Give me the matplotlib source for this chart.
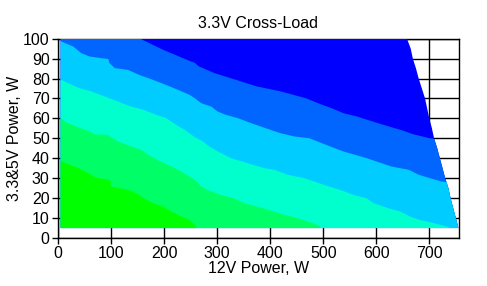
import matplotlib
matplotlib.use("Agg")
import matplotlib.pyplot as plt
from matplotlib.patches import Polygon
import numpy as np

plt.rcParams['font.family'] = ['Liberation Sans', 'DejaVu Sans']

title = "3.3V Cross-Load"
xlabel = "12V Power, W"
ylabel = "3.3&5V Power, W"

x_ticks = [0, 100, 200, 300, 400, 500, 600, 700]
y_ticks = [0, 10, 20, 30, 40, 50, 60, 70, 80, 90, 100]

# measured region starts at these minimum loads
x_min_load = 5
y_min_load = 5

# right boundary (maximum combined load) : y -> x
edge_y = [5, 10, 15, 20, 25, 30, 35, 40, 45, 50, 55, 60, 65, 70, 75, 80, 85, 90, 95, 100]
edge_x = [755, 750, 745, 740, 736, 730, 725, 720, 715, 709, 705, 700, 696, 692, 686, 680, 675, 669, 665, 658]

# boundaries between deviation levels (y -> x)
b1_y = [5, 6.9, 9.4, 11, 13.5, 16.1, 17.7, 20.2, 22.7, 24.4, 25.3, 26.1, 29.5, 30.5, 32, 33.6, 35.3, 37, 38.8]
b1_x = [262, 257, 247, 232, 213, 197, 178, 161, 147, 131, 115, 100, 97, 70, 62, 50, 38, 21, 5]

b2_y = [5, 6.4, 8, 10.2, 11.9, 14, 16.1, 17.7, 20.2, 21.9, 24.4, 26.1, 29.4, 31.1, 33.6, 36.1, 39, 42,
        44.5, 46.2, 48.7, 51.2, 52, 52.3, 53.7, 55.3, 58.2, 60.4]
b2_x = [495, 492, 476, 451, 426, 401, 373, 351, 330, 306, 281, 269, 257, 247, 232, 213, 190, 169,
        156, 137, 112, 97, 94, 68, 59, 42, 15, 5]

b3_y = [5, 6, 7.7, 9.4, 11, 13.5, 15.2, 17.7, 20.2, 21.9, 24.4, 26.1, 28.6, 30.3, 32, 34.5, 35.3, 37,
        38.6, 40.3, 42, 43.7, 46.2, 48.7, 51.2, 54.5, 57, 60.4, 62, 64.6, 66.2, 68.7, 70.4, 72.8, 73.8,
        75.4, 77.1, 79.6]
b3_x = [740, 733, 708, 680, 663, 645, 622, 594, 581, 556, 531, 510, 482, 463, 432, 407, 388, 366,
        347, 325, 313, 300, 284, 272, 255, 238, 222, 203, 185, 160, 137, 112, 96, 72, 62,
        40, 25, 5]

b4_y = [28, 28.6, 30.3, 32, 34.5, 36.1, 37.8, 40.3, 42, 43.7, 46.2, 50.3, 51.2, 52.8, 55.3, 57.9, 60.4,
        62, 63.7, 66.2, 67.9, 70.4, 72.1, 76.3, 79.6, 82, 84.6, 85.5, 88, 90, 91.3, 93, 96.3, 98.8]
b4_x = [745, 722, 700, 679, 660, 628, 609, 581, 559, 537, 512, 473, 445, 419, 391, 363, 338,
        316, 300, 288, 269, 257, 247, 210, 178, 153, 131, 106, 96, 94, 59, 43, 28, 6]

b5_y = [49, 50.3, 52.3, 54.5, 56.6, 58.8, 61.2, 62.9, 65.4, 67.1, 70.4, 73.8, 76.3, 80.4, 83, 86.3,
        88.3, 88.8, 94.7, 100]
b5_x = [740, 700, 669, 645, 618, 591, 563, 537, 515, 497, 466, 419, 374, 325, 294, 265,
        256, 250, 197, 156]

level_colors = ['#00FF00', '#00FF66', '#00FFCC', '#00CCFF', '#0066FF', '#0000FF']

fig = plt.figure(figsize=(4.87, 2.86), dpi=100)
ax = fig.add_axes([0.1191, 0.1678, 0.8234, 0.6969])
ax.set_xlim(0, 756)
ax.set_ylim(0, 100)

# measured region, used as clip path for every level fill
region_pts = [(x_min_load, y_min_load)] + list(zip(edge_x, edge_y)) + [(x_min_load, edge_y[-1])]
region = Polygon(region_pts, closed=True, transform=ax.transData)

x_lo, x_hi = ax.get_xlim()
y_lo, y_hi = ax.get_ylim()

# highest level covers everything, lower levels are painted on top
pcs = [ax.fill_betweenx([y_lo, y_hi], x_lo, x_hi, color=level_colors[5], linewidth=0,
                        zorder=3, antialiased=False)]
for by, bx, col in [(b5_y, b5_x, level_colors[4]), (b4_y, b4_x, level_colors[3]),
                    (b3_y, b3_x, level_colors[2]), (b2_y, b2_x, level_colors[1]),
                    (b1_y, b1_x, level_colors[0])]:
    yy = [y_lo] + list(by) if min(by) <= y_min_load else list(by)
    xx = [bx[0]] + list(bx) if min(by) <= y_min_load else list(bx)
    pcs.append(ax.fill_betweenx(yy, x_lo, xx, color=col, linewidth=0, zorder=3, antialiased=False))
    if min(by) > y_min_load:
        pcs.append(ax.fill_betweenx([y_lo, min(by)], x_lo, x_hi, color=col,
                                    linewidth=0, zorder=3, antialiased=False))
for pc in pcs:
    pc.set_clip_path(region)

ax.set_xticks(x_ticks)
ax.set_yticks(y_ticks)
ax.grid(True, color='black', linewidth=1.0, zorder=1)
ax.set_axisbelow(True)
for s in ax.spines.values():
    s.set_color('black')
    s.set_linewidth(1.0)
    s.set_zorder(1)
ax.tick_params(direction='out', length=4, width=1.0, colors='black', labelsize=11.5, pad=2)

ax.set_title(title, fontsize=11.5, pad=8)
ax.set_xlabel(xlabel, fontsize=11.5, labelpad=0)
ax.set_ylabel(ylabel, fontsize=11.5, labelpad=1)

fig.savefig('out.png', dpi=100)
